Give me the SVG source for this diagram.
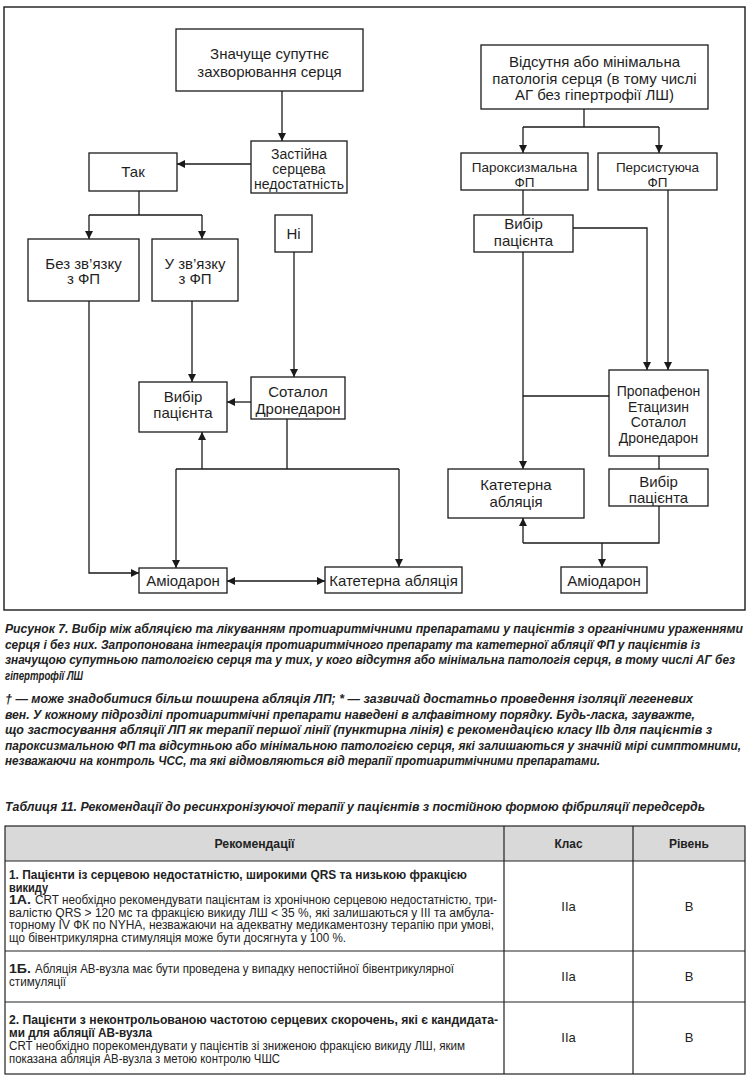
<svg xmlns="http://www.w3.org/2000/svg" width="749" height="1080" viewBox="0 0 749 1080">
<defs>
<marker id="ah" viewBox="0 0 10 10" refX="10" refY="5" markerWidth="8" markerHeight="9" markerUnits="userSpaceOnUse" orient="auto-start-reverse">
<path d="M0,0 L10,5 L0,10 z" fill="#1a1a1a"/>
</marker>
<style>
.box{fill:#fff;stroke:#1a1a1a;stroke-width:1.3}
.t{font-family:"Liberation Sans",Arial,sans-serif;font-size:15px;fill:#1f1f1f;text-anchor:middle}
.s14{font-size:14px}
.s13{font-size:13.5px}
.c{stroke:#1a1a1a;stroke-width:1.3;fill:none}
.a{marker-end:url(#ah)}
.cap{font-family:"Liberation Sans",Arial,sans-serif;font-size:12px;font-weight:bold;font-style:italic;fill:#222}
.tb{font-family:"Liberation Sans",Arial,sans-serif;font-size:12.5px;fill:#222}
.tbb{font-weight:bold}
.v{font-size:13px}
.grid{stroke:#222;stroke-width:1.2;fill:none}
</style>
</defs>
<rect x="4" y="7" width="741" height="603" fill="none" stroke="#1a1a1a" stroke-width="1.4"/>

<g id="connectors">
<path class="c a" d="M282,91 V141"/>
<path class="c a" d="M251,164 H177"/>
<path class="c" d="M139,191 V215 M89,215 H202"/>
<path class="c a" d="M89,215 V239"/>
<path class="c a" d="M202,215 V239"/>
<path class="c a" d="M294,252 V377"/>
<path class="c a" d="M192,301 V382"/>
<path class="c a" d="M251,402 H227"/>
<path class="c a" d="M89,301 V573 H139"/>
<path class="c" d="M287,419 V469 M176,469 H399"/>
<path class="c a" d="M202,469 V432"/>
<path class="c a" d="M176,469 V568"/>
<path class="c a" d="M399,469 V567"/>
<path class="c a" d="M227,581 H325" style="marker-start:url(#ah)"/>
<path class="c" d="M584,109 V127 M523,127 H659"/>
<path class="c a" d="M523,127 V153"/>
<path class="c a" d="M659,127 V153"/>
<path class="c" d="M523,190 V215"/>
<path class="c a" d="M573,228 H647 V370"/>
<path class="c a" d="M668,190 V370"/>
<path class="c a" d="M523,252 V469"/>
<path class="c" d="M609,396 H523"/>
<path class="c" d="M659,456 V469"/>
<path class="c" d="M659,506 V543 H523"/>
<path class="c a" d="M523,543 V518"/>
<path class="c a" d="M602,543 V567"/>
</g>

<g id="n-significant">
<rect class="box" x="176" y="29" width="187" height="62"/>
<text class="t" x="269.5" y="59">Значуще супутнє</text>
<text class="t" x="269.5" y="76.5">захворювання серця</text>
</g>
<g id="n-chf">
<rect class="box" x="251" y="141" width="96" height="52"/>
<text class="t s14" x="299" y="159">Застійна</text>
<text class="t s14" x="299" y="174">серцева</text>
<text class="t s14" x="299" y="188.5">недостатність</text>
</g>
<g id="n-yes">
<rect class="box" x="89" y="153" width="88" height="38"/>
<text class="t" x="133" y="177">Так</text>
</g>
<g id="n-unrelated">
<rect class="box" x="28" y="239" width="111" height="62"/>
<text class="t" x="83.5" y="269">Без зв’язку</text>
<text class="t" x="83.5" y="284">з ФП</text>
</g>
<g id="n-related">
<rect class="box" x="152" y="239" width="86" height="62"/>
<text class="t" x="195" y="269">У зв’язку</text>
<text class="t" x="195" y="284">з ФП</text>
</g>
<g id="n-no">
<rect class="box" x="275" y="215" width="37" height="37"/>
<text class="t" x="293.5" y="238.5">Ні</text>
</g>
<g id="n-choice-left">
<rect class="box" x="139" y="382" width="88" height="50"/>
<text class="t" x="183" y="402">Вибір</text>
<text class="t" x="183" y="418">пацієнта</text>
</g>
<g id="n-sotalol">
<rect class="box" x="251" y="377" width="94" height="42"/>
<text class="t" x="298" y="397">Соталол</text>
<text class="t" x="298" y="414">Дронедарон</text>
</g>
<g id="n-amio-left">
<rect class="box" x="139" y="568" width="88" height="25"/>
<text class="t" x="183" y="586">Аміодарон</text>
</g>
<g id="n-ablation-left">
<rect class="box" x="325" y="567" width="137" height="26"/>
<text class="t" x="393.5" y="586">Катетерна абляція</text>
</g>

<g id="n-minimal">
<rect class="box" x="481" y="45" width="227" height="64"/>
<text class="t" x="594.5" y="67">Відсутня або мінімальна</text>
<text class="t" x="594.5" y="83.5">патологія серця (в тому числі</text>
<text class="t" x="594.5" y="99.5">АГ без гіпертрофії ЛШ)</text>
</g>
<g id="n-paroxysmal">
<rect class="box" x="461" y="153" width="127" height="37"/>
<text class="t s13" x="524.5" y="171.5">Пароксизмальна</text>
<text class="t s13" x="524.5" y="187">ФП</text>
</g>
<g id="n-persistent">
<rect class="box" x="598" y="153" width="119" height="37"/>
<text class="t s13" x="657.5" y="171.5">Персистуюча</text>
<text class="t s13" x="657.5" y="187">ФП</text>
</g>
<g id="n-choice-right-top">
<rect class="box" x="474" y="215" width="99" height="37"/>
<text class="t" x="523.5" y="229">Вибір</text>
<text class="t" x="523.5" y="246">пацієнта</text>
</g>
<g id="n-drugs">
<rect class="box" x="609" y="370" width="99" height="86"/>
<text class="t s14" x="658.5" y="396">Пропафенон</text>
<text class="t s14" x="658.5" y="411.5">Етацизин</text>
<text class="t s14" x="658.5" y="427">Соталол</text>
<text class="t s14" x="658.5" y="442.5">Дронедарон</text>
</g>
<g id="n-ablation-right">
<rect class="box" x="448" y="469" width="136" height="49"/>
<text class="t" x="516" y="490">Катетерна</text>
<text class="t" x="516" y="507">абляція</text>
</g>
<g id="n-choice-right-bottom">
<rect class="box" x="609" y="469" width="99" height="37"/>
<text class="t" x="658.5" y="487">Вибір</text>
<text class="t" x="658.5" y="503">пацієнта</text>
</g>
<g id="n-amio-right">
<rect class="box" x="561" y="567" width="86" height="26"/>
<text class="t" x="604" y="586">Аміодарон</text>
</g>

<g id="caption">
<text class="cap" x="5" y="633" textLength="738" lengthAdjust="spacingAndGlyphs">Рисунок 7. Вибір між абляцією та лікуванням протиаритмічними препаратами у пацієнтів з органічними ураженнями</text>
<text class="cap" x="5" y="648.5" textLength="695" lengthAdjust="spacingAndGlyphs">серця і без них. Запропонована інтеграція протиаритмічного препарату та катетерної абляції ФП у пацієнтів із</text>
<text class="cap" x="5" y="664" textLength="730" lengthAdjust="spacingAndGlyphs">значущою супутньою патологією серця та у тих, у кого відсутня або мінімальна патологія серця, в тому числі АГ без</text>
<text class="cap" x="5" y="679.5" textLength="78" lengthAdjust="spacingAndGlyphs">гіпертрофії ЛШ</text>
<text class="cap" x="5" y="703" textLength="688" lengthAdjust="spacingAndGlyphs">† — може знадобитися більш поширена абляція ЛП; * — зазвичай достатньо проведення ізоляції легеневих</text>
<text class="cap" x="5" y="718.5" textLength="690" lengthAdjust="spacingAndGlyphs">вен. У кожному підрозділі протиаритмічні препарати наведені в алфавітному порядку. Будь-ласка, зауважте,</text>
<text class="cap" x="5" y="734" textLength="707" lengthAdjust="spacingAndGlyphs">що застосування абляції ЛП як терапії першої лінії (пунктирна лінія) є рекомендацією класу IIb для пацієнтів з</text>
<text class="cap" x="5" y="749.5" textLength="736" lengthAdjust="spacingAndGlyphs">пароксизмальною ФП та відсутньою або мінімальною патологією серця, які залишаються у значній мірі симптомними,</text>
<text class="cap" x="5" y="765" textLength="595" lengthAdjust="spacingAndGlyphs">незважаючи на контроль ЧСС, та які відмовляються від терапії протиаритмічними препаратами.</text>
<text class="cap" x="5" y="811" textLength="700" lengthAdjust="spacingAndGlyphs">Таблиця 11. Рекомендації до ресинхронізуючої терапії у пацієнтів з постійною формою фібриляції передсердь</text>
</g>

<g id="table">
<rect x="5" y="826" width="740" height="35" fill="#d9d9d9"/>
<rect class="grid" x="5" y="826" width="740" height="248"/>
<path class="grid" d="M5,861 H745 M5,951 H745 M5,1002 H745 M504,826 V1074 M633,826 V1074"/>
<text class="tb tbb" x="254.5" y="848" text-anchor="middle" textLength="80" lengthAdjust="spacingAndGlyphs">Рекомендації</text>
<text class="tb tbb" x="568.5" y="848" text-anchor="middle" textLength="28" lengthAdjust="spacingAndGlyphs">Клас</text>
<text class="tb tbb" x="689" y="848" text-anchor="middle" textLength="40" lengthAdjust="spacingAndGlyphs">Рівень</text>

<text class="tb tbb" x="9" y="879" textLength="458" lengthAdjust="spacingAndGlyphs">1. Пацієнти із серцевою недостатністю, широкими QRS та низькою фракцією</text>
<text class="tb tbb" x="9" y="891.5" textLength="39" lengthAdjust="spacingAndGlyphs">викиду</text>
<text class="tb tbb" x="9" y="904" textLength="22" lengthAdjust="spacingAndGlyphs">1А.</text>
<text class="tb" x="35" y="904" textLength="462" lengthAdjust="spacingAndGlyphs">CRT необхідно рекомендувати пацієнтам із хронічною серцевою недостатністю, три-</text>
<text class="tb" x="9" y="916.5" textLength="485" lengthAdjust="spacingAndGlyphs">валістю QRS &gt; 120 мс та фракцією викиду ЛШ &lt; 35 %, які залишаються у III та амбула-</text>
<text class="tb" x="9" y="929" textLength="485" lengthAdjust="spacingAndGlyphs">торному IV ФК по NYHA, незважаючи на адекватну медикаментозну терапію при умові,</text>
<text class="tb" x="9" y="941.5" textLength="337" lengthAdjust="spacingAndGlyphs">що бівентрикулярна стимуляція може бути досягнута у 100 %.</text>
<text class="tb v" x="568.5" y="911" text-anchor="middle">IIa</text>
<text class="tb v" x="689" y="911" text-anchor="middle">B</text>

<text class="tb tbb" x="9" y="973" textLength="22" lengthAdjust="spacingAndGlyphs">1Б.</text>
<text class="tb" x="35" y="973" textLength="419" lengthAdjust="spacingAndGlyphs">Абляція АВ-вузла має бути проведена у випадку непостійної бівентрикулярної</text>
<text class="tb" x="9" y="986" textLength="57" lengthAdjust="spacingAndGlyphs">стимуляції</text>
<text class="tb v" x="568.5" y="981" text-anchor="middle">IIa</text>
<text class="tb v" x="689" y="981" text-anchor="middle">B</text>

<text class="tb tbb" x="9" y="1024" textLength="489" lengthAdjust="spacingAndGlyphs">2. Пацієнти з неконтрольованою частотою серцевих скорочень, які є кандидата-</text>
<text class="tb tbb" x="9" y="1037" textLength="143" lengthAdjust="spacingAndGlyphs">ми для абляції АВ-вузла</text>
<text class="tb" x="9" y="1050" textLength="456" lengthAdjust="spacingAndGlyphs">CRT необхідно порекомендувати у пацієнтів зі зниженою фракцією викиду ЛШ, яким</text>
<text class="tb" x="9" y="1063" textLength="271" lengthAdjust="spacingAndGlyphs">показана абляція АВ-вузла з метою контролю ЧШС</text>
<text class="tb v" x="568.5" y="1042" text-anchor="middle">IIa</text>
<text class="tb v" x="689" y="1042" text-anchor="middle">B</text>
</g>
</svg>
